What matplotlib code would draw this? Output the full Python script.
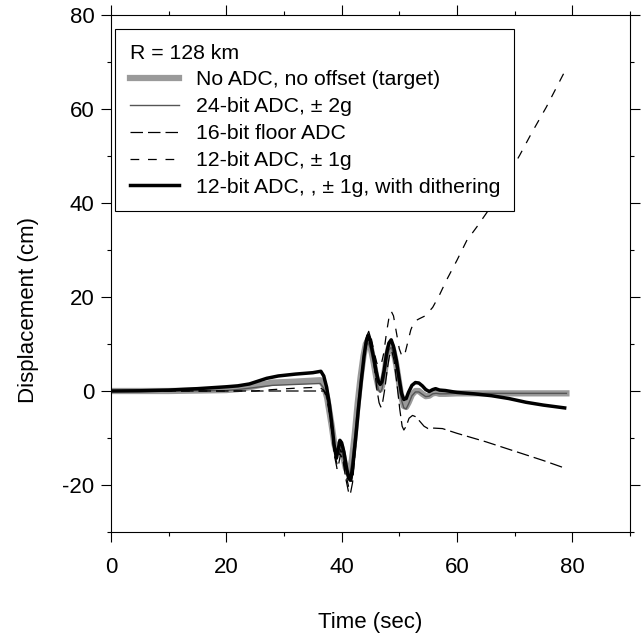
import matplotlib.pyplot as plt
from matplotlib.ticker import MultipleLocator

plt.rcParams['font.family'] = ['Liberation Sans', 'DejaVu Sans']
plt.rcParams['axes.unicode_minus'] = False

# target (no ADC, no offset)
t_target = [0, 10, 20, 22, 24, 26, 28, 32, 36.3, 36.9, 37.5, 37.9, 38.3, 38.7, 39.0, 39.3,
            39.6, 39.9, 40.3, 40.7, 41.1, 41.4, 41.8, 42.3, 42.8, 43.3, 43.8, 44.2, 44.6,
            45.0, 45.5, 46.0, 46.4, 46.7, 47.0, 47.4, 47.8, 48.2, 48.6, 49.0, 49.5, 50.0,
            50.4, 50.8, 51.2, 51.6, 52.2, 52.8, 53.4, 54.0, 54.6, 55.2, 55.8, 56.4, 57.0,
            58, 60, 70, 79]
v_target = [0, 0, 0.2, 0.4, 0.8, 1.3, 1.8, 2.0, 2.3, 1.2, -1.5, -4.5, -7.5, -11, -12.5, -12,
            -11.3, -11.8, -14, -16.3, -17.5, -17.3, -14.5, -9, -2.5, 3, 7.5, 10, 10.8,
            9.5, 6.5, 3, 0.8, 0.3, 1, 3.5, 7, 9.2, 9.8, 8.5, 5.5, 1.5,
            -1.5, -3.2, -3.4, -2.5, -0.8, 0, 0, -0.6, -1.1, -1.0, -0.5, -0.4, -0.6,
            -0.6, -0.5, -0.5, -0.5]

# 24-bit ADC, +-2g
t_24 = [0, 10, 20, 22, 24, 26, 28, 32, 36.3, 36.9, 37.5, 37.9, 38.3, 38.7, 39.0, 39.3,
        39.6, 39.9, 40.3, 40.7, 41.1, 41.4, 41.8, 42.3, 42.8, 43.3, 43.8, 44.2, 44.6,
        45.0, 45.5, 46.0, 46.4, 46.7, 47.0, 47.4, 47.8, 48.2, 48.6, 49.0, 49.5, 50.0,
        50.4, 50.8, 51.2, 51.6, 52.2, 52.8, 53.4, 54.0, 54.6, 55.2, 55.8, 56.4, 57.0,
        58, 60, 70, 79]
v_24 = [0, 0, 0.1, 0.3, 0.6, 0.9, 1.2, 1.4, 1.6, 0.6, -2, -5, -8, -11.5, -13, -12.5,
        -11.8, -12.3, -14.5, -16.8, -18, -17.8, -15, -9.5, -3, 2.5, 7, 9.5, 10.3,
        9, 6, 2.5, 0.3, -0.3, 0.4, 3, 6.5, 8.7, 9.3, 8, 5, 1,
        -2, -3.6, -3.8, -2.8, -1, -0.2, -0.2, -0.7, -1.2, -1.1, -0.6, -0.5, -0.6,
        -0.6, -0.5, -0.5, -0.5]

# 16-bit floor ADC
t_16 = [0, 20, 30, 37, 37.3, 37.8, 38.3, 38.8, 39.2, 39.5, 39.8, 40.2, 40.7, 41.2, 41.5,
        41.9, 42.4, 42.9, 43.4, 43.9, 44.3, 44.7, 45.1, 45.6, 46.1, 46.5, 46.8, 47.1, 47.5,
        47.9, 48.3, 48.7, 49.1, 49.6, 50.1, 50.5, 50.8, 51.2, 51.7, 52.3, 52.9, 53.6, 54.3,
        55, 56, 57.5, 60, 65, 70, 75, 78.7]
v_16 = [0, 0, 0, 0, -0.5, -3.5, -8.5, -14, -16.5, -15.5, -13.5, -14.5, -18.5, -21.5, -22,
        -19.5, -12, -4.5, 2, 8, 11.5, 12.7, 11, 6, 0.5, -2.5, -3.4, -2.5, 0.5,
        4.5, 7.5, 8.5, 6.5, 1.5, -4, -7.5, -8.3, -7.5, -5.8, -5.2, -5.5, -6.5, -7.5,
        -8, -7.9, -8, -9, -10.8, -12.8, -14.8, -16.4]

# 12-bit ADC, +-1g
t_12 = [0, 25, 28, 32, 36, 36.8, 37.3, 37.8, 38.3, 38.8, 39.2, 39.5, 39.8, 40.2, 40.7, 41.2,
        41.5, 41.9, 42.4, 42.9, 43.4, 43.9, 44.3, 44.7, 45.1, 45.6, 46.1, 46.5, 46.9, 47.3,
        47.8, 48.2, 48.6, 49.0, 49.5, 50.0, 50.5, 50.9, 51.4, 52.0, 52.6, 53.5, 54.5, 55.8,
        57, 58.2, 60, 61.7, 63.5, 65.2, 68, 70.9, 73, 75.5, 78.7]
v_12 = [0, 0, 0.3, 0.6, 0.8, 0.3, -1, -4, -8.5, -13.5, -15.5, -14.5, -12.5, -13.5, -17.5, -20.3,
        -20.7, -18, -11, -3.5, 3, 8.5, 11.5, 12.5, 11.5, 8.5, 6, 5.2, 5.8, 8,
        12.5, 15.5, 17, 16, 12.5, 9, 7.3, 7.5, 10, 13, 14.8, 15.4, 16, 17.8,
        20.5, 23.6, 27.8, 32, 35, 38, 44, 50.2, 55, 60.4, 68]

# 12-bit ADC, +-1g, with dithering
t_dith = [0, 5, 10, 15, 20, 22, 24, 25.5, 27, 29, 32, 35, 36.4, 36.9, 37.4, 37.9, 38.3, 38.7,
          39.1, 39.4, 39.7, 40.0, 40.4, 40.8, 41.2, 41.5, 41.9, 42.4, 42.9, 43.4, 43.9, 44.3,
          44.6, 45.0, 45.5, 46.0, 46.4, 46.7, 47.0, 47.4, 47.8, 48.2, 48.6, 49.0, 49.5, 50.0,
          50.4, 50.8, 51.2, 51.6, 52.2, 52.8, 53.4, 54.0, 54.6, 55.2, 55.8, 56.3, 57.0, 58,
          60, 63, 66, 69, 72, 75, 78.7]
v_dith = [0, 0.05, 0.2, 0.5, 0.9, 1.1, 1.5, 2.1, 2.7, 3.2, 3.6, 3.9, 4.2, 3.2, 0.8, -3, -7, -11.5,
          -14.3, -12.5, -10.5, -11, -13, -16, -18.5, -19, -16.5, -10.5, -4, 2, 7.5, 10.8,
          11.8, 10.5, 7.5, 4.2, 2, 1.4, 2, 4.5, 8, 10.2, 10.9, 9.5, 6.5, 2.5,
          -0.5, -1.8, -1.6, -0.3, 1.2, 1.8, 1.7, 1.1, 0.3, -0.1, 0.3, 0.5, 0.2, 0.1,
          -0.3, -0.6, -1.0, -1.6, -2.4, -3.0, -3.6]

fig = plt.figure(figsize=(6.42, 6.34), dpi=100)
ax = fig.add_axes([0.173, 0.161, 0.808, 0.815])

ax.plot(t_target, v_target, color='#9a9a9a', lw=4.5, label='No ADC, no offset (target)')
ax.plot(t_24, v_24, color='#555555', lw=1, label='24-bit ADC, ± 2g')
ax.plot(t_16, v_16, color='black', lw=0.9, dashes=(10, 4), label='16-bit floor ADC')
ax.plot(t_12, v_12, color='black', lw=0.9, dashes=(7, 7), label='12-bit ADC, ± 1g')
ax.plot(t_dith, v_dith, color='black', lw=2.5, label='12-bit ADC, , ± 1g, with dithering')

ax.set_xlim(0, 90)
ax.set_ylim(-30, 80)
ax.xaxis.set_major_locator(MultipleLocator(20))
ax.xaxis.set_minor_locator(MultipleLocator(10))
ax.yaxis.set_major_locator(MultipleLocator(20))
ax.yaxis.set_minor_locator(MultipleLocator(10))
ax.set_xticks([0, 20, 40, 60, 80])
ax.tick_params(which='both', direction='out', top=True, right=True, width=0.8)
ax.tick_params(which='major', length=7, labelsize=16)
ax.tick_params(which='minor', length=3)
ax.tick_params(axis='x', pad=11)
ax.tick_params(axis='y', pad=5)
for s in ax.spines.values():
    s.set_linewidth(0.8)

ax.set_xlabel('Time (sec)', fontsize=16)
ax.set_ylabel('Displacement (cm)', fontsize=16)
ax.xaxis.set_label_coords(0.5, -0.155)
ax.yaxis.set_label_coords(-0.138, 0.43)

leg = ax.legend(title='R = 128 km', loc='upper left', bbox_to_anchor=(0.008, 0.973),
                borderaxespad=0, fontsize=15.3, title_fontsize=15.3, alignment='left',
                fancybox=False, edgecolor='black', framealpha=1, handlelength=2.3,
                handletextpad=0.8, labelspacing=0.37, borderpad=0.68)
leg.get_frame().set_linewidth(0.8)

plt.savefig('out.png', dpi=100)
